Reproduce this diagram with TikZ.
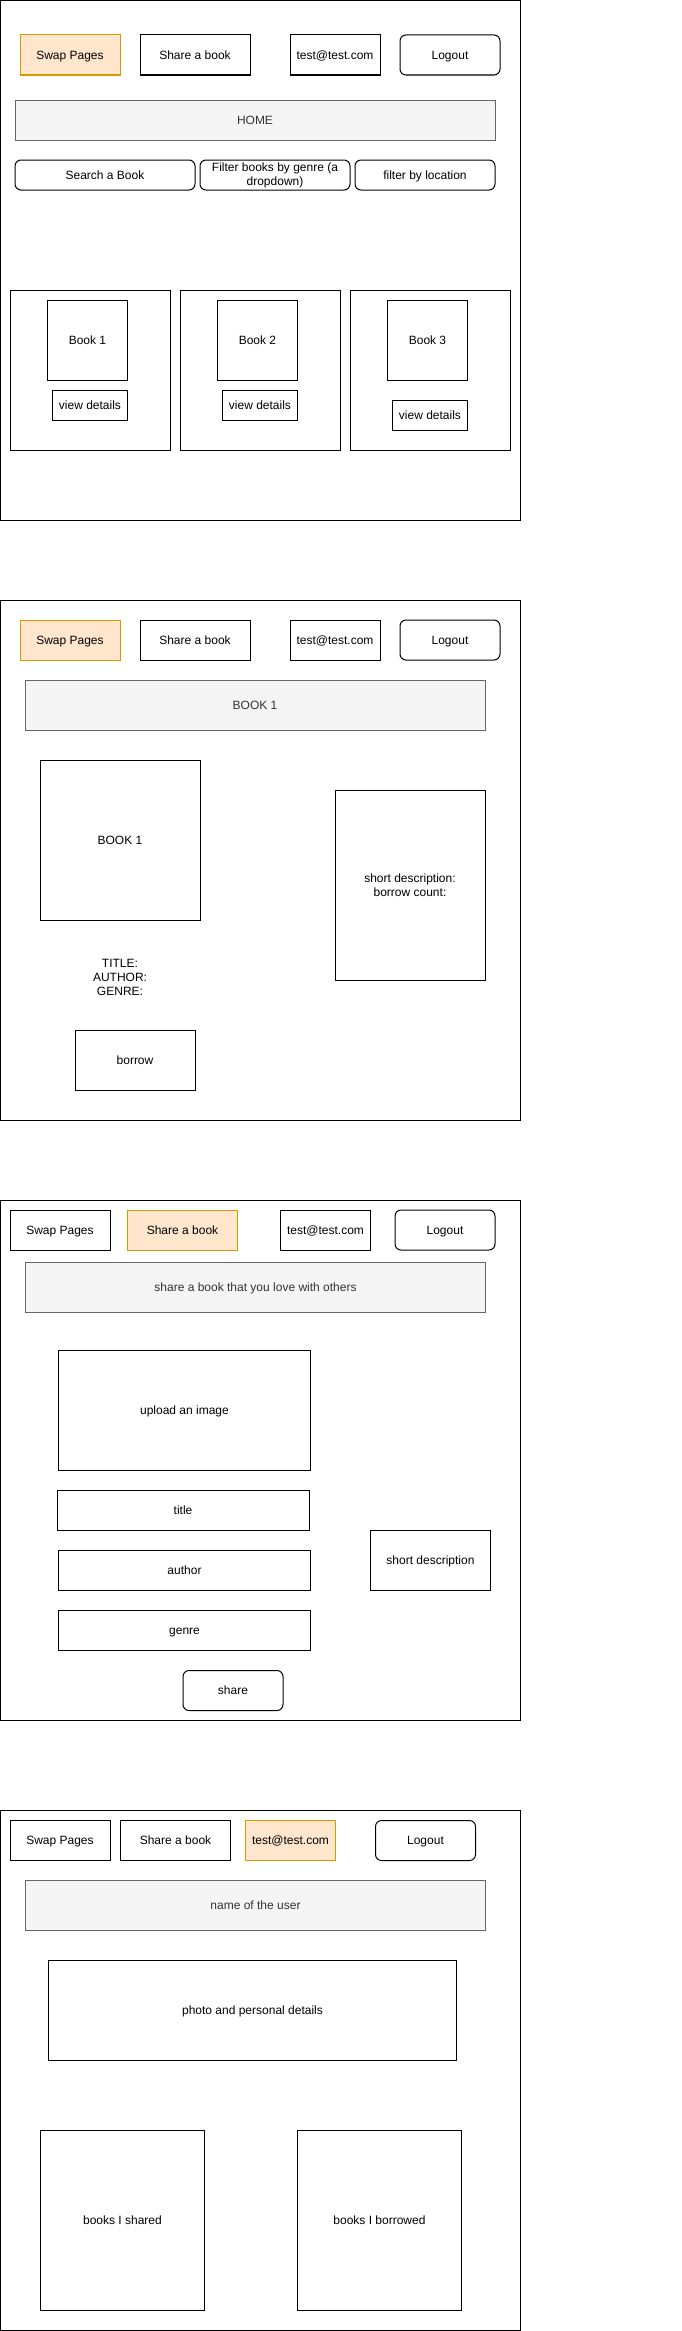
\documentclass[tikz,border=0pt]{standalone}
\usepackage{fontspec}
\setmainfont{Liberation Sans}
\usetikzlibrary{positioning}

\definecolor{pickfill}{HTML}{FFE6CC}
\definecolor{pickline}{HTML}{D79B00}
\definecolor{headfill}{HTML}{F5F5F5}
\definecolor{headline}{HTML}{666666}
\definecolor{headtext}{HTML}{333333}

\begin{document}
\begin{tikzpicture}[x=1pt,y=-1pt,font=\fontsize{12}{14}\selectfont,
    box/.style={draw,line width=1pt,inner sep=0pt,outer sep=0pt,anchor=north west,align=center,
        text height=10.9pt,text depth=2.5pt},
    lines/.style={text height={},text depth={}},
    btn/.style={box,rounded corners=6pt},
    picked/.style={box,fill=pickfill,draw=pickline},
    header/.style={box,fill=headfill,draw=headline,text=headtext}]

\useasboundingbox[fill=white] (0,0) rectangle (681,2331);

% the four page frames
\foreach \y/\name in {0/home, 600/details, 1200/share, 1810/profile} {
    \node[box,minimum width=520,minimum height=520] (\name) at (0.5,\y+0.5) {};
}

% page 1: home
\node[picked,minimum width=100,minimum height=40] (swap1) at (20,35) {Swap Pages};
\node[box,minimum width=110,minimum height=40] (sharebtn1) at (140,35) {Share a book};
\node[box,minimum width=90,minimum height=40] (user1) at (290,35) {test@test.com};
\node[btn,minimum width=100,minimum height=40] (logout1) at (400,35) {Logout};
\node[header,minimum width=480,minimum height=40] (homehead) at (15,100) {HOME};
\node[btn,minimum width=180,minimum height=30] (search) at (15,160) {Search a Book};
\node[btn,lines,minimum width=150,minimum height=30] (genre) at (200,160) {Filter books by genre (a\\dropdown)};
\node[btn,minimum width=140,minimum height=30] (location) at (355,160) {filter by location};

\foreach \i/\x/\dy in {1/10/0, 2/180/0, 3/350/10} {
    \node[box,minimum width=160,minimum height=160] (card\i) at (\x,290) {};
    \node[box,minimum width=80,minimum height=80] (book\i) at (\x+37.5,300) {Book \i};
    \node[box,minimum width=75,minimum height=30] (view\i) at (\x+42.5,390+\dy) {view details};
}

% page 2: book details
\node[picked,minimum width=100,minimum height=40] (swap2) at (20,620) {Swap Pages};
\node[box,minimum width=110,minimum height=40] (sharebtn2) at (140,620) {Share a book};
\node[box,minimum width=90,minimum height=40] (user2) at (290,620) {test@test.com};
\node[btn,minimum width=100,minimum height=40] (logout2) at (400,620) {Logout};
\node[header,minimum width=460,minimum height=50] (bookhead) at (25,680) {BOOK 1};
\node[box,minimum width=160,minimum height=160] (cover) at (40,760) {BOOK 1};
\node[align=center,inner sep=0pt] (facts) at (120,977) {TITLE:\\AUTHOR:\\GENRE:};
\node[box,minimum width=120,minimum height=60] (borrow) at (75,1030) {borrow};
\node[box,lines,minimum width=150,minimum height=190] (about) at (335,790) {short description:\\borrow count:};

% page 3: share a book
\node[box,minimum width=100,minimum height=40] (swap3) at (10,1210) {Swap Pages};
\node[picked,minimum width=110,minimum height=40] (sharebtn3) at (127.5,1210) {Share a book};
\node[box,minimum width=90,minimum height=40] (user3) at (280.5,1210) {test@test.com};
\node[btn,minimum width=100,minimum height=40] (logout3) at (395,1210) {Logout};
\node[header,minimum width=460,minimum height=50] (sharehead) at (25.5,1262.5) {share a book that you love with others};
\node[box,minimum width=252,minimum height=120] (upload) at (58.5,1350.5) {upload an image};
\node[box,minimum width=252,minimum height=40] (title) at (57,1490.5) {title};
\node[box,minimum width=252,minimum height=40] (author) at (58.5,1550.5) {author};
\node[box,minimum width=252,minimum height=40] (kind) at (58.5,1610.5) {genre};
\node[box,minimum width=120,minimum height=60] (summary) at (370.5,1530.5) {short description};
\node[btn,minimum width=100,minimum height=40] (sharego) at (183,1670.5) {share};

% page 4: profile
\node[box,minimum width=100,minimum height=40] (swap4) at (10,1820.5) {Swap Pages};
\node[box,minimum width=110,minimum height=40] (sharebtn4) at (120.5,1820.5) {Share a book};
\node[picked,minimum width=90,minimum height=40] (user4) at (245.5,1820.5) {test@test.com};
\node[btn,minimum width=100,minimum height=40] (logout4) at (375.5,1820.5) {Logout};
\node[header,minimum width=460,minimum height=50] (userhead) at (25.5,1880.5) {name of the user};
\node[box,minimum width=408,minimum height=100] (personal) at (48.5,1960.5) {photo and personal details};
\node[box,minimum width=164,minimum height=180] (shared) at (40.5,2130.5) {books I shared};
\node[box,minimum width=164,minimum height=180] (borrowed) at (297.5,2130.5) {books I borrowed};

\end{tikzpicture}
\end{document}
